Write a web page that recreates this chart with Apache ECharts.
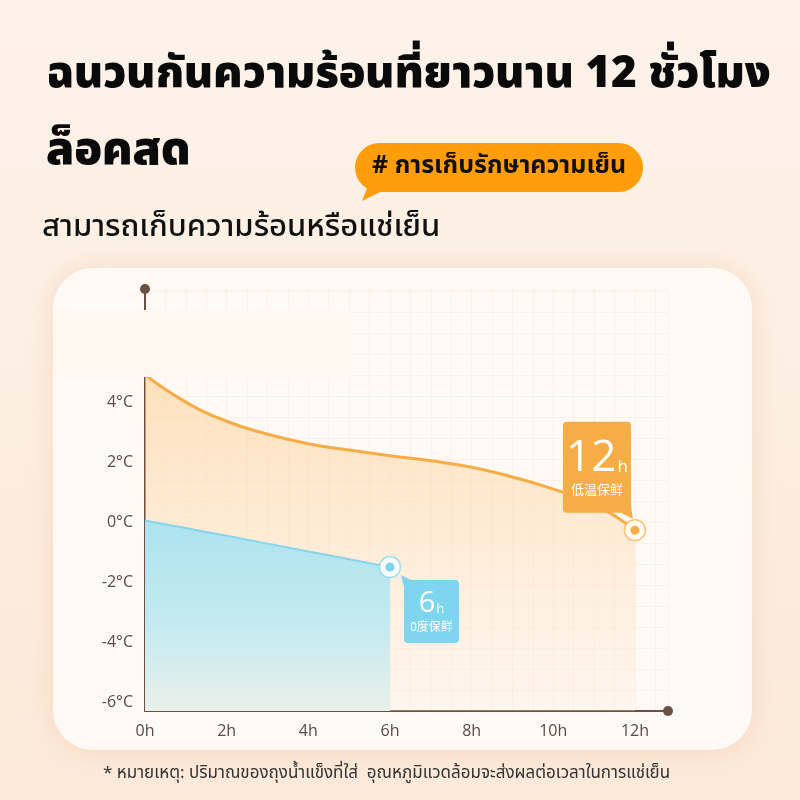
<!DOCTYPE html>
<html><head><meta charset="utf-8">
<script src="https://cdn.jsdelivr.net/npm/echarts@6/dist/echarts.min.js"></script>
<style>html,body{margin:0;padding:0;background:#fdf0e4}#c{width:800px;height:800px}</style>
</head><body><div id="c"></div>
<script>
// ---- data ----
const hours = [0,1,2,3,4,5,6,7,8,9,10,11,12];
const warmTemps = [4.91,4.0,3.36,2.93,2.61,2.40,2.21,2.04,1.83,1.5,1.1,0.6,-0.27];
const coldHours = [0,1,2,3,4,5,6];
const coldTemps = [0.05,-0.2,-0.46,-0.72,-0.98,-1.24,-1.5];
const xTickValues = [0,2,4,6,8,10,12];
const yTickValues = [-6,-4,-2,0,2,4];
const xTickLabels = ['0h','2h','4h','6h','8h','10h','12h'];
const yTickLabels = ['-6°C','-4°C','-2°C','0°C','2°C','4°C'];
const warmMark = {hour:12, temp:-0.27, big:'12', unit:'h', note:'低温保鲜'};
const coldMark = {hour:6, temp:-1.5, big:'6', unit:'h', note:'0度保鲜'};
const titleLine1 = 'ฉนวนกันความร้อนที่ยาวนาน 12 ชั่วโมง';
const titleLine2 = 'ล็อคสด';
const badgeText = '# การเก็บรักษาความเย็น';
const subtitle = 'สามารถเก็บความร้อนหรือแช่เย็น';
const footnote = '* หมายเหตุ: ปริมาณของถุงน้ำแข็งที่ใส่  อุณหภูมิแวดล้อมจะส่งผลต่อเวลาในการแช่เย็น';

const FONT = '"Noto Sans Thai","Noto Sans","Open Sans",Tahoma,sans-serif';
const ORANGE = '#f6ad45', BLUE = '#7dd6ee', AXIS = '#6a4f45';

const chart = echarts.init(document.getElementById('c'), null, {renderer:'canvas'});

const coldBubble = 'path://M7 5 L54 5 Q58 5 58 9 L58 64 Q58 68 54 68 L7 68 Q3 68 3 64 L3 12 L0 0 L10 5 Z';
const warmBubble = 'path://M4 0 L64 0 Q68 0 68 4 L68 84 L70 97 L58 91 L4 91 Q0 91 0 87 L0 4 Q0 0 4 0 Z';

function richLabel(bigSize, unitSize, noteSize, unitLift){
  return {
    big:{color:'#fff', fontSize:bigSize, fontFamily:'"Open Sans",Roboto,sans-serif', fontWeight:400, lineHeight:bigSize},
    unit:{color:'#fff', fontSize:unitSize, fontFamily:'"Open Sans",Roboto,sans-serif', lineHeight:unitSize, verticalAlign:'bottom', padding:[0,0,unitLift,1]},
    note:{color:'#fff', fontSize:noteSize, fontFamily:'"Noto Sans CJK SC",sans-serif', lineHeight:noteSize+4}
  };
}

const gridLine = {show:true, lineStyle:{color:'rgba(240,190,150,0.14)', width:1}};

const option = {
  backgroundColor: new echarts.graphic.LinearGradient(0,0,0,1,[{offset:0,color:'#fdf3ea'},{offset:1,color:'#fce9d9'}]),
  animation:false,
  grid:{left:145, top:289, width:523, height:422, containLabel:false},
  xAxis:{
    type:'value', min:0, max:12.81, interval:0.5,
    axisLine:{show:true, onZero:false, lineStyle:{color:AXIS, width:2}, symbol:['none','circle'], symbolSize:[10,10]},
    axisTick:{show:false},
    axisLabel:{customValues:xTickValues, formatter:(v)=>xTickLabels[xTickValues.indexOf(v)]||'', color:'#5a4a44', fontSize:16, fontFamily:'"Open Sans",sans-serif', margin:12},
    splitLine:gridLine
  },
  yAxis:{
    type:'value', min:-6.3, max:7.77, interval:0.7,
    axisLine:{show:true, onZero:false, lineStyle:{color:AXIS, width:2}, symbol:['none','circle'], symbolSize:[10,10]},
    axisTick:{show:false},
    axisLabel:{customValues:yTickValues, formatter:(v)=>yTickLabels[yTickValues.indexOf(v)]||'', color:'#5a4a44', fontSize:16, fontFamily:'"Open Sans",sans-serif', margin:12},
    splitLine:gridLine
  },
  series:[
    {
      type:'line', name:'warm', smooth:0.5, symbol:'none', z:2,
      data: hours.map((h,i)=>[h, warmTemps[i]]),
      lineStyle:{color:ORANGE, width:3},
      areaStyle:{origin:'start', color:new echarts.graphic.LinearGradient(0,0,0,1,[{offset:0,color:'rgba(252,208,150,0.85)'},{offset:0.5,color:'rgba(253,222,185,0.7)'},{offset:1,color:'rgba(253,236,220,0.45)'}])},
      markPoint:{
        z:5,
        data:[
          {coord:[warmMark.hour, warmMark.temp], symbol:warmBubble, symbolSize:[70,97], symbolOffset:[-37,-60],
           itemStyle:{color:ORANGE},
           label:{show:true, position:'inside', offset:[-1,-3], formatter:`{big|${warmMark.big}}{unit|${warmMark.unit}}\n{note|${warmMark.note}}`, rich:richLabel(44,17,13,5)}},
          {coord:[warmMark.hour, warmMark.temp], symbol:'circle', symbolSize:21, itemStyle:{color:'#fffaf3', borderColor:'rgba(246,173,69,0.7)', borderWidth:1.5}, label:{show:false}},
          {coord:[warmMark.hour, warmMark.temp], symbol:'circle', symbolSize:9, itemStyle:{color:ORANGE}, label:{show:false}}
        ]
      }
    },
    {
      type:'line', name:'cold', smooth:0.2, symbol:'none', z:3,
      data: coldHours.map((h,i)=>[h, coldTemps[i]]),
      lineStyle:{color:'#86d5ea', width:2},
      areaStyle:{origin:'start', opacity:1, color:new echarts.graphic.LinearGradient(0,0,0,1,[{offset:0,color:'#ade3ef'},{offset:0.55,color:'#c4eaf0'},{offset:1,color:'#e9f1ea'}])},
      markPoint:{
        z:5,
        data:[
          {coord:[coldMark.hour, coldMark.temp], symbol:coldBubble, symbolSize:[58,68], symbolOffset:[40,42],
           itemStyle:{color:BLUE},
           label:{show:true, position:'inside', offset:[1.5,3], formatter:`{big|${coldMark.big}}{unit|${coldMark.unit}}\n{note|${coldMark.note}}`, rich:richLabel(29,13,12,3)}},
          {coord:[coldMark.hour, coldMark.temp], symbol:'circle', symbolSize:21, itemStyle:{color:'#fbfdfc', borderColor:'rgba(125,214,238,0.7)', borderWidth:1.5}, label:{show:false}},
          {coord:[coldMark.hour, coldMark.temp], symbol:'circle', symbolSize:9, itemStyle:{color:BLUE}, label:{show:false}}
        ]
      }
    }
  ],
  graphic:[
    {type:'rect', z:-10, silent:true, shape:{x:53, y:268, width:699, height:482, r:40},
     style:{fill:'#fffaf5', shadowBlur:24, shadowColor:'rgba(235,170,120,0.28)'}},
    {type:'rect', z:100, silent:true, shape:{x:53, y:310, width:300, height:67}, style:{fill:'#fff7f0'}},
    {type:'text', z:100, style:{x:46, y:78, text:titleLine1, fill:'#0a0a0a', font:'900 44px '+FONT, textVerticalAlign:'middle'}},
    {type:'text', z:100, style:{x:46, y:155, text:titleLine2, fill:'#0a0a0a', font:'900 46px '+FONT, textVerticalAlign:'middle'}},
    {type:'rect', z:100, shape:{x:355, y:143, width:288, height:49, r:24.5}, style:{fill:'#ff9d0a'}},
    {type:'polygon', z:100, shape:{points:[[368,186],[362,201],[388,188]]}, style:{fill:'#ff9d0a'}},
    {type:'text', z:101, style:{x:372, y:168, text:badgeText, fill:'#111', font:'700 25px '+FONT, textVerticalAlign:'middle'}},
    {type:'text', z:100, style:{x:42, y:230, text:subtitle, fill:'#111', font:'500 31px '+FONT, textVerticalAlign:'middle'}},
    {type:'text', z:100, style:{x:103, y:775, text:footnote, fill:'#333', font:'400 17px '+FONT, textVerticalAlign:'middle'}}
  ]
};
chart.setOption(option);
</script></body></html>
